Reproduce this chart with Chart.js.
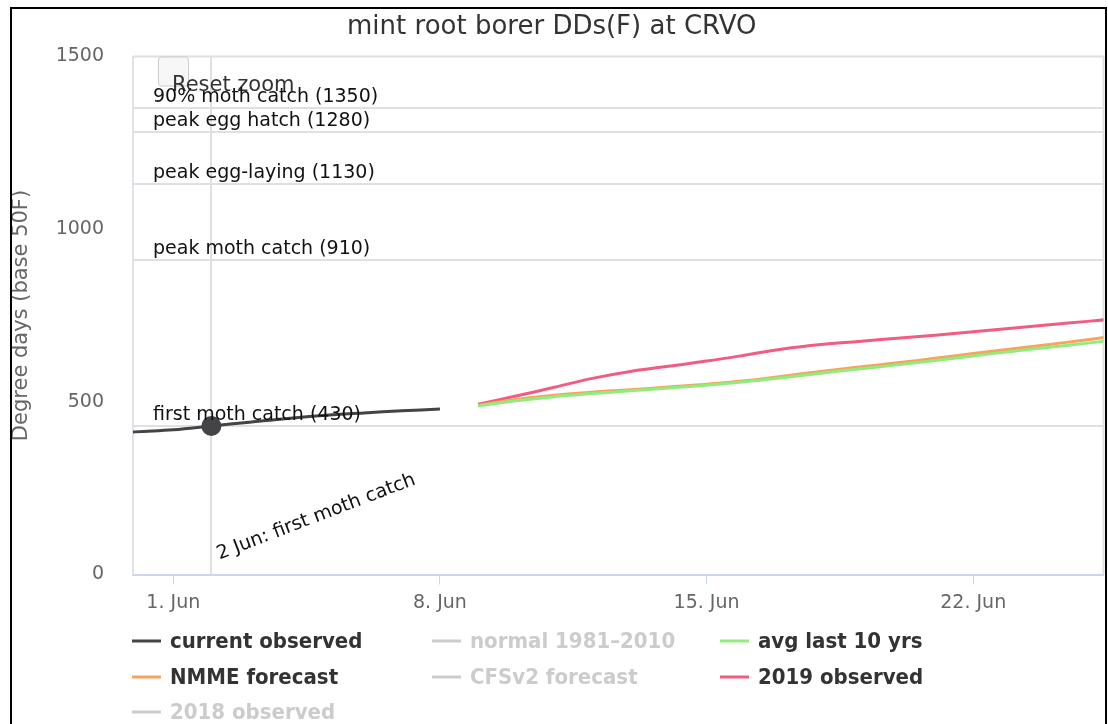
<!DOCTYPE html>
<html>
<head>
<meta charset="utf-8">
<title>mint root borer DDs(F) at CRVO</title>
<script src="https://cdn.jsdelivr.net/npm/chart.js@4.4.1/dist/chart.umd.min.js"></script>
<style>
  html, body { margin: 0; padding: 0; background: #fff; }
  #wrap { position: relative; width: 1108px; height: 724px; overflow: hidden; background: #fff; }
  #frame { position: absolute; left: 10px; top: 7px; width: 1097px; height: 800px; box-sizing: border-box; border: 2px solid #000; pointer-events: none; }
</style>
</head>
<body>
<div id="wrap">
  <canvas id="ddChart"></canvas>
  <div id="frame"></div>
</div>
<script>
// x values are days of June (0 = 31 May)
const obsDays = [-1, 0, 1, 2, 3, 4, 5, 6, 7, 8];
const currentObserved = [404, 413, 419, 430, 441, 452, 461, 468, 474, 479];

const fcDays = [9, 10, 11, 12, 13, 14, 15, 16, 17, 18, 19, 20, 21, 22, 23, 24, 25, 26];
const avgLast10 = [488, 503, 515, 524, 532, 540, 548, 558, 570, 583, 595, 607, 620, 633, 646, 658, 670, 683];
const nmmeForecast = [490, 507, 519, 528, 535, 543, 551, 561, 574, 588, 601, 613, 626, 640, 653, 666, 680, 694];
const observed2019 = [493, 517, 542, 568, 588, 603, 618, 635, 653, 666, 675, 684, 693, 703, 713, 723, 733, 743];

const tickDays = [1, 8, 15, 22];
const yTicks = [0, 500, 1000, 1500];

// insect stage thresholds (degree days)
const stageValues = [430, 910, 1130, 1280, 1350];
const stageLabels = ['first moth catch (430)', 'peak moth catch (910)', 'peak egg-laying (1130)',
                     'peak egg hatch (1280)', '90% moth catch (1350)'];

const eventDay = 2;
const eventLabel = '2 Jun: first moth catch';

const seriesNames = ['current observed', 'normal 1981–2010', 'avg last 10 yrs', 'NMME forecast',
                     'CFSv2 forecast', '2019 observed', '2018 observed'];
const seriesColors = ['#434348', '#cccccc', '#90ed7d', '#f7a35c', '#cccccc', '#f15c80', '#cccccc'];

function pairs(xs, ys) {
  return xs.map((x, i) => ({ x: x, y: ys[i] }));
}

const baseFont = 'DejaVu Sans, Verdana, sans-serif';

// horizontal stage lines, the 2 Jun line, plot border and the zoom button
const plotLinesPlugin = {
  id: 'plotLines',
  beforeDatasetsDraw(chart) {
    const { ctx, chartArea: a, scales } = chart;
    const y = scales.y, x = scales.x;
    ctx.save();
    ctx.strokeStyle = '#e0e0e0';
    ctx.lineWidth = 2;
    // top + right border of the plot
    ctx.beginPath();
    ctx.moveTo(a.left, y.getPixelForValue(1500));
    ctx.lineTo(a.right, y.getPixelForValue(1500));
    ctx.lineTo(a.right, a.bottom);
    ctx.stroke();

    stageValues.forEach(v => {
      const py = Math.round(y.getPixelForValue(v));
      ctx.beginPath();
      ctx.moveTo(a.left, py);
      ctx.lineTo(a.right, py);
      ctx.stroke();
    });

    const ex = Math.round(x.getPixelForValue(eventDay));
    ctx.beginPath();
    ctx.moveTo(ex, a.top);
    ctx.lineTo(ex, a.bottom);
    ctx.stroke();

    // the "Reset zoom" button as it shows in the original
    ctx.fillStyle = '#f7f7f7';
    ctx.strokeStyle = '#cccccc';
    ctx.lineWidth = 1;
    ctx.beginPath();
    ctx.roundRect(a.left + 25.5, a.top + 0.5, 30, 29, 3);
    ctx.fill();
    ctx.stroke();
    ctx.fillStyle = '#333333';
    ctx.font = '21px ' + baseFont;
    ctx.textBaseline = 'alphabetic';
    ctx.textAlign = 'left';
    ctx.fillText('Reset zoom', a.left + 39, a.top + 34);
    ctx.restore();
  },
  afterDatasetsDraw(chart) {
    const { ctx, chartArea: a, scales } = chart;
    ctx.save();
    ctx.fillStyle = '#111111';
    ctx.font = '19px ' + baseFont;
    ctx.textAlign = 'left';
    ctx.textBaseline = 'alphabetic';
    stageValues.forEach((v, i) => {
      ctx.fillText(stageLabels[i], a.left + 20, scales.y.getPixelForValue(v) - 6);
    });
    const ex = scales.x.getPixelForValue(eventDay);
    ctx.translate(ex + 8, a.bottom - 15);
    ctx.rotate(-21 * Math.PI / 180);
    ctx.fillText(eventLabel, 0, 0);
    ctx.restore();
  }
};

// legend in a 3-column grid, hidden series greyed out
const gridLegendPlugin = {
  id: 'gridLegend',
  afterDraw(chart) {
    const { ctx } = chart;
    const cols = [132, 432, 720];
    const rows = [641, 677, 712];
    ctx.save();
    ctx.font = 'bold 22px "DejaVu Sans Condensed", "Liberation Sans Narrow", sans-serif';
    ctx.textBaseline = 'middle';
    ctx.textAlign = 'left';
    chart.data.datasets.forEach((ds, i) => {
      const cx = cols[i % 3];
      const cy = rows[Math.floor(i / 3)];
      const visible = chart.isDatasetVisible(i);
      ctx.strokeStyle = visible ? ds.borderColor : '#cccccc';
      ctx.lineWidth = 3;
      ctx.beginPath();
      ctx.moveTo(cx, cy);
      ctx.lineTo(cx + 29, cy);
      ctx.stroke();
      ctx.fillStyle = visible ? '#333333' : '#cccccc';
      ctx.fillText(ds.label, cx + 38, cy + 1);
    });
    ctx.restore();
  }
};

const datasets = [
  { data: pairs(obsDays, currentObserved) },
  { data: [], hidden: true },
  { data: pairs(fcDays, avgLast10) },
  { data: pairs(fcDays, nmmeForecast) },
  { data: [], hidden: true },
  { data: pairs(fcDays, observed2019) },
  { data: [], hidden: true }
].map((d, i) => Object.assign({
  label: seriesNames[i],
  borderColor: seriesColors[i],
  backgroundColor: seriesColors[i],
  borderWidth: 3,
  tension: 0.4,
  pointRadius: 0,
  fill: false
}, d));

// marker on 2 Jun
datasets[0].pointRadius = ctx => (ctx.raw && ctx.raw.x === eventDay ? 10 : 0);
datasets[0].pointHoverRadius = datasets[0].pointRadius;
datasets[0].pointBorderWidth = 0;
datasets[0].pointBackgroundColor = '#434348';

const ctx = document.getElementById('ddChart').getContext('2d');
const chart = new Chart(ctx, {
  type: 'line',
  data: { datasets: datasets },
  options: {
    responsive: true,
    maintainAspectRatio: false,
    animation: false,
    layout: { padding: { left: 0, right: 4.5, top: 0, bottom: 0 } },
    plugins: {
      legend: { display: false },
      tooltip: { enabled: false },
      title: {
        display: true,
        text: 'mint root borer DDs(F) at CRVO',
        color: '#333333',
        font: { family: baseFont, size: 26, weight: 'normal' },
        padding: { top: 12, bottom: 13.3 }
      }
    },
    scales: {
      x: {
        type: 'linear',
        min: -0.058,
        max: 25.42,
        afterBuildTicks: scale => { scale.ticks = tickDays.map(v => ({ value: v })); },
        afterFit: scale => { scale.height = 149.5; },
        ticks: {
          color: '#666666',
          font: { family: baseFont, size: 19 },
          padding: 7,
          callback: v => v + '. Jun'
        },
        grid: { drawOnChartArea: false, color: '#ccd6eb', tickLength: 10, lineWidth: 1 },
        border: { color: '#ccd6eb', width: 2 }
      },
      y: {
        min: 0,
        max: 1500,
        afterBuildTicks: scale => { scale.ticks = yTicks.map(v => ({ value: v })); },
        afterFit: scale => { scale.width = 133; },
        ticks: {
          color: '#666666',
          font: { family: baseFont, size: 19 },
          padding: 29,
          callback: v => String(v)
        },
        grid: { display: false, drawTicks: false },
        border: { color: '#dde3ee', width: 2 },
        title: {
          display: true,
          text: 'Degree days (base 50F)',
          color: '#666666',
          font: { family: baseFont, size: 21 },
          padding: { top: 9, bottom: 0 }
        }
      }
    }
  },
  plugins: [plotLinesPlugin, gridLegendPlugin]
});
</script>
</body>
</html>
